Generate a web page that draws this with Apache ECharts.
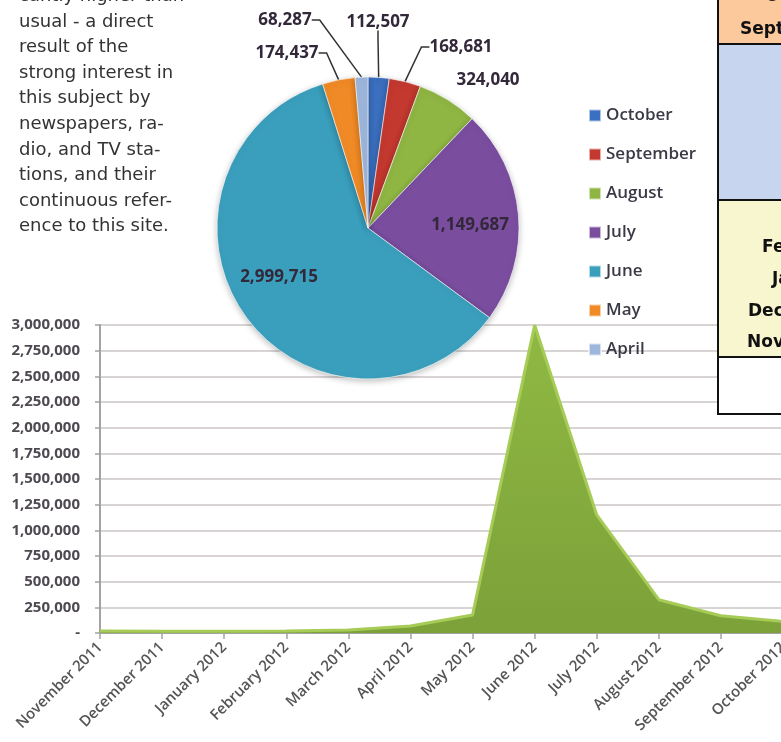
<!DOCTYPE html>
<html>
<head>
<meta charset="utf-8">
<title>Visits by month</title>
<script src="https://cdn.jsdelivr.net/npm/echarts@6/dist/echarts.min.js"></script>
<style>
html, body { margin: 0; padding: 0; background: #fff; }
#main { width: 781px; height: 742px; }
</style>
</head>
<body>
<div id="main"></div>
<script>
// monthly visits, Nov 2011 - Oct 2012
const months = ['November 2011', 'December 2011', 'January 2012', 'February 2012', 'March 2012', 'April 2012',
  'May 2012', 'June 2012', 'July 2012', 'August 2012', 'September 2012', 'October 2012']
const visits = [20000, 18000, 17000, 20000, 30000, 68287, 174437, 2999715, 1149687, 324040, 168681, 112507]

// pie: last seven months, clockwise from the top
const pieMonths = ['October', 'September', 'August', 'July', 'June', 'May', 'April']
const pieValues = [112507, 168681, 324040, 1149687, 2999715, 174437, 68287]
const pieColors = ['#3b6fbf', '#c3382f', '#8fb543', '#7a4d9f', '#3a9fbd', '#f08a26', '#9db6dc']

// surrounding page text
const paraLines = ['cantly higher than', 'usual - a direct', 'result of the', 'strong interest in',
  'this subject by', 'newspapers, ra-', 'dio, and TV sta-', 'tions, and their',
  'continuous refer-', 'ence to this site.']
const tableRows = ['October', 'September', 'February', 'January', 'December', 'November']

// where the pie labels sit (label centres)
const labelPos = [[378, 22], [461, 47], [488, 80], [470, 225], [279, 277], [287, 53], [285, 20]]
const insideLabel = ['July', 'June']
const noLine = ['August', 'July', 'June']

const fmt = v => (v === 0 ? '-' : v.toLocaleString('en-US'))

const graphic = []
paraLines.forEach((t, i) => {
  graphic.push({
    type: 'text', x: 19, y: -3.6 + i * 25.6, z: 50,
    style: { text: t, font: '18px "DejaVu Sans"', fill: '#333', verticalAlign: 'middle' }
  })
})
// table bands on the right
const bands = [[-5, 44, '#fbc99c'], [44, 200, '#c8d5ee'], [200, 357, '#f8f6cf'], [357, 414, '#ffffff']]
bands.forEach(b => {
  graphic.push({ type: 'rect', z: 50, shape: { x: 718, y: b[0], width: 80, height: b[1] - b[0] }, style: { fill: b[2] } })
})
;[44, 200, 357, 414].forEach(y => {
  graphic.push({ type: 'line', z: 51, shape: { x1: 718, y1: y, x2: 800, y2: y }, style: { stroke: '#111', lineWidth: 2 } })
})
graphic.push({ type: 'line', z: 51, shape: { x1: 718, y1: -5, x2: 718, y2: 415 }, style: { stroke: '#111', lineWidth: 2 } })
const rowPos = [[765, -3], [740, 30], [762, 248], [772, 280], [748, 312], [747, 343]]
tableRows.forEach((t, i) => {
  graphic.push({
    type: 'text', z: 52, x: rowPos[i][0], y: rowPos[i][1],
    style: { text: t, font: 'bold 17px "DejaVu Sans"', fill: '#111', verticalAlign: 'middle' }
  })
})

const option = {
  backgroundColor: '#fff',
  animation: false,
  graphic: graphic,
  grid: { left: 100, right: -2, top: 325, bottom: 109, outerBoundsMode: 'none', containLabel: false },
  legend: {
    orient: 'vertical', left: 583, top: 102,
    itemWidth: 12, itemHeight: 12, itemGap: 22, icon: 'rect',
    textStyle: { fontFamily: 'Open Sans', fontSize: 17, fontWeight: 600, color: '#3a3a46' },
    data: pieMonths
  },
  xAxis: {
    type: 'category',
    data: months,
    boundaryGap: false,
    axisLine: { lineStyle: { color: '#a3a3a3', width: 2 } },
    axisTick: { show: true, length: 6, lineStyle: { color: '#a3a3a3', width: 1.5 } },
    axisLabel: { rotate: 45, margin: 12, fontFamily: 'Open Sans', fontSize: 15, fontWeight: 600, color: '#555' },
    splitLine: { show: false }
  },
  yAxis: {
    type: 'value',
    min: 0, max: 3000000, interval: 250000,
    axisLine: { show: true, lineStyle: { color: '#a3a3a3', width: 2 } },
    axisTick: { show: true, length: 5, lineStyle: { color: '#a3a3a3', width: 1.5 } },
    axisLabel: { margin: 20, formatter: fmt, fontFamily: 'Open Sans', fontSize: 15, fontWeight: 700, color: '#4f4a52' },
    splitLine: { lineStyle: { color: '#d8d4d4', width: 2 } }
  },
  series: [
    {
      type: 'line',
      data: visits,
      symbol: 'none',
      lineStyle: { color: '#a6cc57', width: 3 },
      areaStyle: {
        opacity: 1,
        color: new echarts.graphic.LinearGradient(0, 0, 0, 1, [
          { offset: 0, color: '#8fb943' },
          { offset: 1, color: '#7ca139' }
        ])
      },
      z: 2
    },
    {
      type: 'pie',
      center: [368, 228],
      radius: 151,
      startAngle: 90,
      clockwise: true,
      z: 10,
      itemStyle: { borderColor: 'rgba(255,255,255,0.6)', borderWidth: 1, shadowBlur: 6, shadowColor: 'rgba(0,0,0,0.25)', shadowOffsetY: 2 },
      label: { show: true, formatter: p => fmt(p.value), fontFamily: 'Open Sans', fontSize: 17, fontWeight: 700, color: '#33283a' },
      labelLine: { show: true, length: 10, length2: 8, lineStyle: { color: '#333', width: 1.5 } },
      labelLayout: p => {
        const pos = labelPos[p.dataIndex]
        return { x: pos[0], y: pos[1], align: 'center', verticalAlign: 'middle' }
      },
      data: pieMonths.map((m, i) => ({
        name: m,
        value: pieValues[i],
        itemStyle: { color: pieColors[i] },
        label: insideLabel.includes(m) ? { position: 'inside' } : {},
        labelLine: { show: !noLine.includes(m) }
      }))
    }
  ]
}

echarts.init(document.getElementById('main')).setOption(option)
</script>
</body>
</html>
